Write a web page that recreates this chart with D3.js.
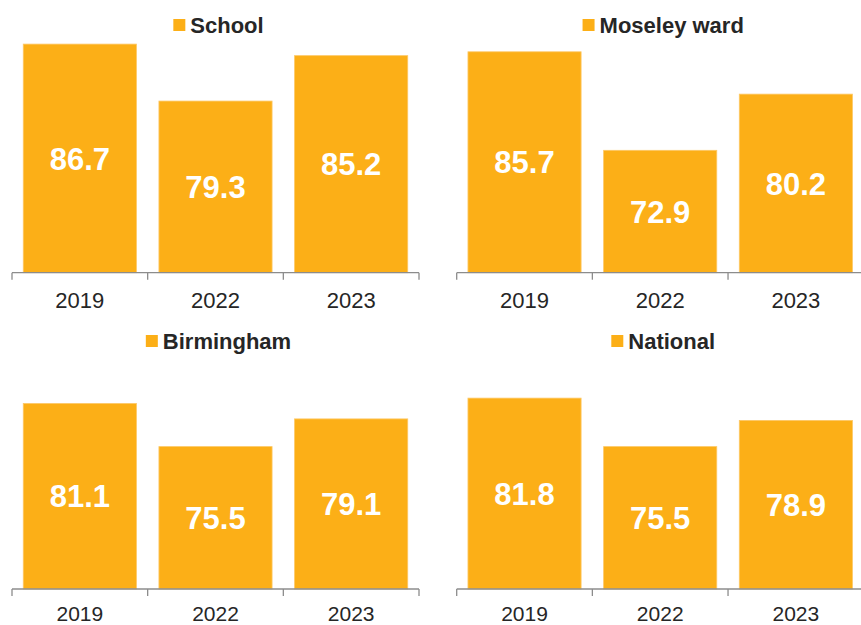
<!DOCTYPE html>
<html>
<head>
<meta charset="utf-8">
<script src="https://cdn.jsdelivr.net/npm/d3@7"></script>
<style>
  html, body { margin: 0; padding: 0; background: #fff; }
  svg { display: block; }
</style>
</head>
<body>
<svg id="chart" width="861" height="625"></svg>
<script>
const years = ["2019", "2022", "2023"];
const seriesNames = ["School", "Moseley ward", "Birmingham", "National"];
const schoolValues = [86.7, 79.3, 85.2];
const moseleyValues = [85.7, 72.9, 80.2];
const birminghamValues = [81.1, 75.5, 79.1];
const nationalValues = [81.8, 75.5, 78.9];
const allValues = [schoolValues, moseleyValues, birminghamValues, nationalValues];
const yDomain = [57, 90];

const svg = d3.select("#chart");
const barColor = "#FCAF17";
const textColor = "#262626";
const axisColor = "#8c8c8c";
const font = "'Liberation Sans', Arial, sans-serif";

const panelW = 407;
const plotH = 254;
const panels = [
  { x: 12,    axisY: 272.7, legendY: 25,  labelY: 35.6, labelSize: 22 },
  { x: 456.7, axisY: 272.7, legendY: 25,  labelY: 35.6, labelSize: 22 },
  { x: 12,    axisY: 589,   legendY: 341, labelY: 31.5, labelSize: 21 },
  { x: 456.7, axisY: 589,   legendY: 341, labelY: 31.5, labelSize: 21 }
];

panels.forEach((p, i) => {
  const data = years.map((y, j) => ({ year: y, value: allValues[i][j] }));
  const g = svg.append("g").attr("transform", `translate(${p.x},0)`);

  const x = d3.scaleBand().domain(years).range([0, panelW])
    .paddingInner(0.166).paddingOuter(0.083);
  const y = d3.scaleLinear().domain(yDomain).range([p.axisY, p.axisY - plotH]);

  // bars
  g.selectAll("rect.bar").data(data).enter().append("rect")
    .attr("class", "bar")
    .attr("x", d => x(d.year))
    .attr("width", x.bandwidth())
    .attr("y", d => y(d.value))
    .attr("height", d => y(yDomain[0]) - y(d.value))
    .attr("fill", barColor)
    .attr("stroke", "#FDC866")
    .attr("stroke-width", 0.8);

  // value labels
  g.selectAll("text.val").data(data).enter().append("text")
    .attr("class", "val")
    .attr("x", d => x(d.year) + x.bandwidth() / 2)
    .attr("y", d => (y(d.value) + y(yDomain[0])) / 2)
    .attr("dy", "0.36em")
    .attr("text-anchor", "middle")
    .attr("fill", "#fff")
    .style("font-family", font)
    .style("font-weight", "bold")
    .style("font-size", "31px")
    .text(d => d.value.toFixed(1));

  // axis line + boundary ticks
  const step = x.step();
  const axisG = g.append("g").attr("transform", `translate(0,${p.axisY})`);
  axisG.append("line").attr("x1", 0).attr("x2", panelW).attr("y1", 0).attr("y2", 0)
    .attr("stroke", axisColor).attr("stroke-width", 1.3);
  axisG.selectAll("line.tk").data(d3.range(years.length + 1)).enter().append("line")
    .attr("class", "tk")
    .attr("x1", k => k * step).attr("x2", k => k * step)
    .attr("y1", 0).attr("y2", 7)
    .attr("stroke", axisColor).attr("stroke-width", 1.3);

  // category labels via d3 axis
  const lab = g.append("g").attr("transform", `translate(0,${p.axisY})`)
    .call(d3.axisBottom(x).tickSize(0).tickPadding(0));
  lab.select(".domain").remove();
  lab.selectAll("text")
    .attr("y", p.labelY).attr("dy", 0)
    .attr("fill", textColor)
    .style("font-family", font)
    .style("font-size", p.labelSize + "px");

  // legend
  const lg = g.append("g");
  const t = lg.append("text")
    .attr("x", 17)
    .attr("y", p.legendY)
    .attr("dy", "0.36em")
    .attr("fill", textColor)
    .style("font-family", font)
    .style("font-weight", "bold")
    .style("font-size", "22px")
    .text(seriesNames[i]);
  lg.append("rect")
    .attr("x", 0).attr("y", p.legendY - 6)
    .attr("width", 12).attr("height", 12)
    .attr("fill", barColor);
  const tw = t.node().getComputedTextLength();
  const total = 17 + tw;
  lg.attr("transform", `translate(${panelW / 2 + 3 - total / 2},0)`);
});
</script>
</body>
</html>
